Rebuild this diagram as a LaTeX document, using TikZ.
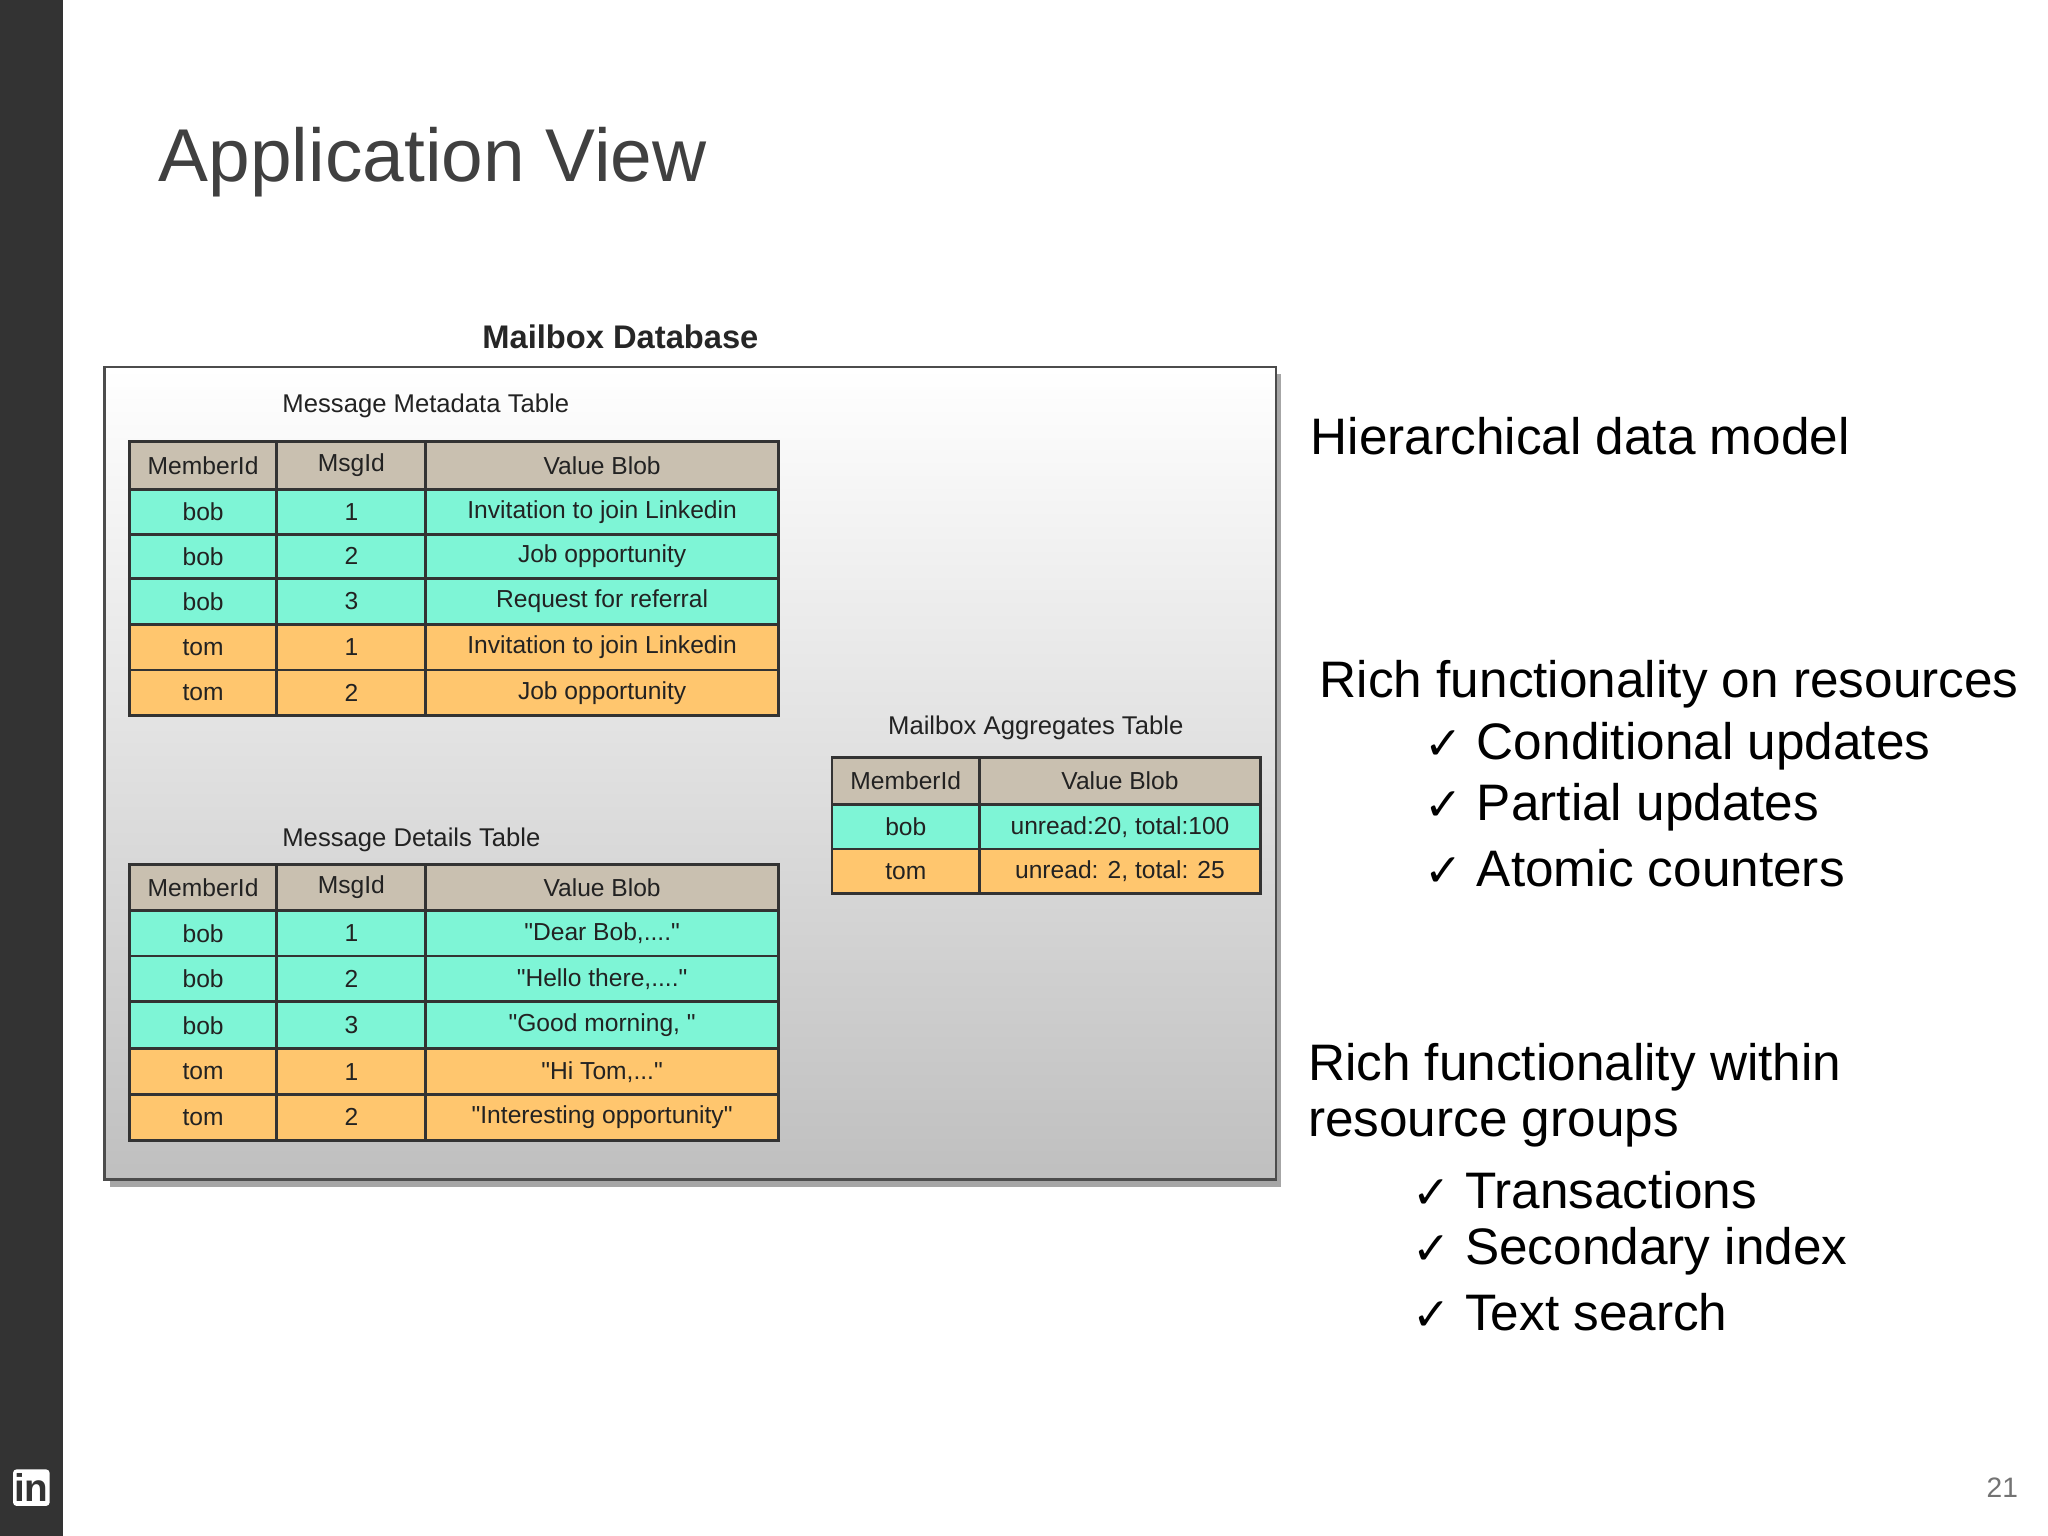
\documentclass[tikz,border=0pt]{standalone}
\usepackage{fontspec}
\setmainfont{Liberation Sans}
\newfontfamily\dv{DejaVu Sans}
\newfontfamily\lsq{Liberation Sans}
\usetikzlibrary{shadows}
\definecolor{hdr}{HTML}{C9C0B0}
\definecolor{cy}{HTML}{7EF5D6}
\definecolor{og}{HTML}{FFC66E}
\definecolor{txt}{HTML}{222222}
\tikzset{cellbox/.style={draw=black!80,line width=0.8pt,inner sep=0pt},
 rtxt/.style={anchor=west,inner sep=0pt,font=\fontsize{14.6}{18}\selectfont,text=black}}
\newcommand\cellx[7]{\path[cellbox,fill=#6] (#2,#3) rectangle (#4,#5);\node[font=\fontsize{7.0}{9}\selectfont,text=txt] (#1) at ({(#2+#4)/2},{(#3+#5)/2}) {#7};}
\newcommand\chk{{\dv\fontsize{13}{15}\selectfont\char"2713}}
\newcommand\q{{\lsq"}}
\begin{document}
\begin{tikzpicture}[x=0.01306cm,y=-0.01306cm]
\useasboundingbox (0,0) rectangle (1568,1176);
\fill[white] (0,0) rectangle (1568,1176);
\fill[black!80] (0,0) rectangle (48,1176);
\node[anchor=west,inner sep=0pt,font=\fontsize{21.3}{26}\selectfont,text=black!75] (title) at (121,124) {Application View};
% database
\node[font=\fontsize{9.3}{11}\selectfont\bfseries,text=black!85] (dbt) at (475,258) {Mailbox Database};
\fill[black!35] (84,286) rectangle (981,909);
\shade[top color=white,bottom color=black!25,draw=black!70,line width=0.8pt] (80,281) rectangle (977,903);
\node[font=\fontsize{7.3}{9}\selectfont,text=txt] (t1) at (326,311) {Message Metadata Table};
\node[font=\fontsize{7.3}{9}\selectfont,text=txt] (t2) at (315,643) {Message Details Table};
\node[font=\fontsize{7.3}{9}\selectfont,text=txt] (t3) at (793,557) {Mailbox Aggregates Table};
% table 1
\cellx{a1}{99}{338}{212}{375}{hdr}{MemberId}\cellx{a2}{212}{338}{326}{375}{hdr}{MsgId}\cellx{a3}{326}{338}{596}{375}{hdr}{Value Blob}
\cellx{b1}{99}{375}{212}{409}{cy}{bob}\cellx{b2}{212}{375}{326}{409}{cy}{1}\cellx{b3}{326}{375}{596}{409}{cy}{Invitation to join Linkedin}
\cellx{c1}{99}{409}{212}{443}{cy}{bob}\cellx{c2}{212}{409}{326}{443}{cy}{2}\cellx{c3}{326}{409}{596}{443}{cy}{Job opportunity}
\cellx{d1}{99}{443}{212}{478}{cy}{bob}\cellx{d2}{212}{443}{326}{478}{cy}{3}\cellx{d3}{326}{443}{596}{478}{cy}{Request for referral}
\cellx{e1}{99}{478}{212}{513}{og}{tom}\cellx{e2}{212}{478}{326}{513}{og}{1}\cellx{e3}{326}{478}{596}{513}{og}{Invitation to join Linkedin}
\cellx{f1}{99}{513}{212}{548}{og}{tom}\cellx{f2}{212}{513}{326}{548}{og}{2}\cellx{f3}{326}{513}{596}{548}{og}{Job opportunity}
% table 2
\cellx{g1}{99}{662}{212}{697}{hdr}{MemberId}\cellx{g2}{212}{662}{326}{697}{hdr}{MsgId}\cellx{g3}{326}{662}{596}{697}{hdr}{Value Blob}
\cellx{h1}{99}{697}{212}{732}{cy}{bob}\cellx{h2}{212}{697}{326}{732}{cy}{1}\cellx{h3}{326}{697}{596}{732}{cy}{\q Dear Bob,....\q}
\cellx{i1}{99}{732}{212}{767}{cy}{bob}\cellx{i2}{212}{732}{326}{767}{cy}{2}\cellx{i3}{326}{732}{596}{767}{cy}{\q Hello there,....\q}
\cellx{j1}{99}{767}{212}{803}{cy}{bob}\cellx{j2}{212}{767}{326}{803}{cy}{3}\cellx{j3}{326}{767}{596}{803}{cy}{\q Good morning, \q}
\cellx{k1}{99}{803}{212}{838}{og}{tom}\cellx{k2}{212}{803}{326}{838}{og}{1}\cellx{k3}{326}{803}{596}{838}{og}{\q Hi Tom,...\q}
\cellx{l1}{99}{838}{212}{873}{og}{tom}\cellx{l2}{212}{838}{326}{873}{og}{2}\cellx{l3}{326}{838}{596}{873}{og}{\q Interesting opportunity\q}
% table 3
\cellx{m1}{637}{580}{750}{616}{hdr}{MemberId}\cellx{m2}{750}{580}{965}{616}{hdr}{Value Blob}
\cellx{n1}{637}{616}{750}{650}{cy}{bob}\cellx{n2}{750}{616}{965}{650}{cy}{unread:20, total:100}
\cellx{o1}{637}{650}{750}{684}{og}{tom}\cellx{o2}{750}{650}{965}{684}{og}{unread: 2, total: 25}
% right text
\node[rtxt] (r1) at (1003,334) {Hierarchical data model};
\node[rtxt] (r2) at (1010,524) {Rich functionality on resources};
\node[rtxt] (r3) at (1090,571) {\chk\ Conditional updates};
\node[rtxt] (r4) at (1090,618) {\chk\ Partial updates};
\node[rtxt] (r5) at (1090,665) {\chk\ Atomic counters};
\node[rtxt] (r6) at (1001,817) {Rich functionality within};
\node[rtxt] (r7) at (1001,864) {resource groups};
\node[rtxt] (r8) at (1081,911) {\chk\ Transactions};
\node[rtxt] (r9) at (1081,958) {\chk\ Secondary index};
\node[rtxt] (r10) at (1081,1005) {\chk\ Text search};
% footer
\node[font=\fontsize{8}{9}\selectfont,text=black!55] (pg) at (1533,1139) {21};
\fill[white,rounded corners=1pt] (10,1125) rectangle (38,1153);
\node[font=\fontsize{11}{12}\selectfont\bfseries,text=black!80] (li) at (24,1139) {in};
\end{tikzpicture}
\end{document}
